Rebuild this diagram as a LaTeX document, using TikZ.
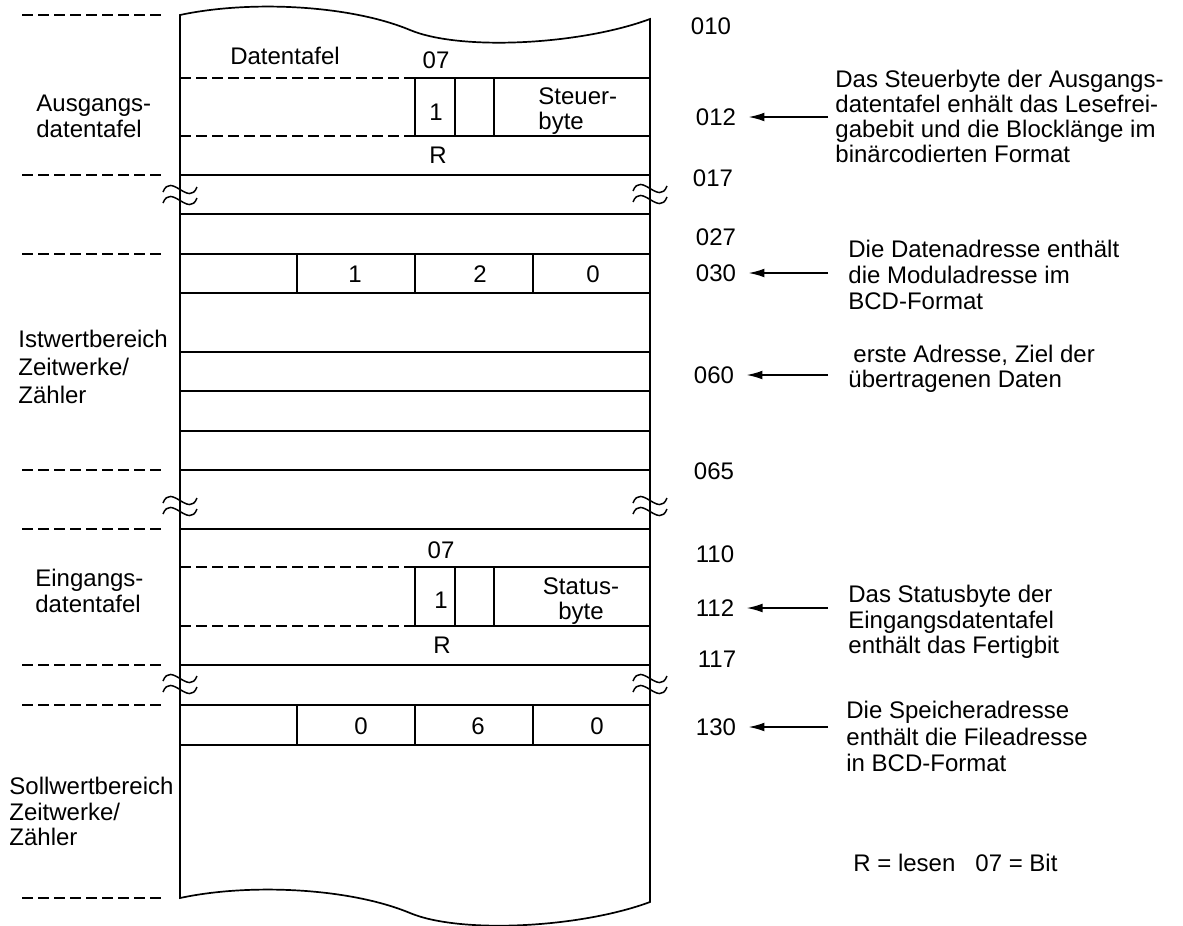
\documentclass[tikz,border=0pt]{standalone}
\usepackage{fontspec}
\setmainfont{Liberation Sans}
\usetikzlibrary{arrows.meta}
\begin{document}
\begin{tikzpicture}[x=0.5pt,y=-0.5pt,
  lw/.style={line width=0.85pt},
  dsh/.style={line width=0.85pt, dash pattern=on 5.5pt off 2.5pt},
  txt/.style={inner sep=0pt, font=\fontsize{12}{12.5}\selectfont},
  blk/.style={txt, align=left, anchor=north west},
  arr/.style={line width=0.85pt, -{Latex[length=8pt,width=4.4pt]}, shorten >=6pt},
  wv/.style={line width=0.75pt}
]
\useasboundingbox (0,0) rectangle (1183,926);

% outline of the memory strip
\draw[lw] (180,15) .. controls (250,0) and (350,5) .. (410,30)
  .. controls (460,51) and (580,45) .. (650,19) -- (650,902)
  .. controls (580,928) and (460,934) .. (410,913)
  .. controls (350,888) and (250,883) .. (180,898) -- cycle;

% full solid rows
\foreach \yy in {175,214,254,293,352,391,431,470,529,665,705,745}
  \draw[lw] (180,\yy) -- (650,\yy);
% half dashed rows
\foreach \yy in {78,136,567,626} {
  \draw[dsh] (180,\yy) -- (415,\yy);
  \draw[lw] (415,\yy) -- (650,\yy);
}
% cell dividers
\foreach \xx in {415,455,494} {
  \draw[lw] (\xx,78) -- (\xx,136);
  \draw[lw] (\xx,567) -- (\xx,626);
}
\foreach \xx in {297,415,533} {
  \draw[lw] (\xx,254) -- (\xx,293);
  \draw[lw] (\xx,705) -- (\xx,745);
}
% left dashed markers
\foreach \yy in {15,175,254,470,529,665,705,898}
  \draw[dsh] (22,\yy) -- (162,\yy);
% break symbols
\foreach \cx/\cy in {180/195,650/194,180/506,650/506,180/684,650/684}
  \foreach \dy in {-5.5,5.5}
    \draw[wv] (\cx-17,\cy+\dy+2.5) .. controls (\cx-9,\cy+\dy-18) and (\cx+9,\cy+\dy+18) .. (\cx+17,\cy+\dy-2.5);

% texts inside the strip
\node[txt] (datentafel) at (285,56) {Datentafel};
\node[txt] (bitA) at (436,60) {07};
\node[txt] (oneA) at (436,112) {1};
\node[txt] (rA) at (438,155) {R};
\node[blk] (steuer) at (538,87) {Steuer-\\byte};
\node[txt] (bitB) at (441,550) {07};
\node[txt] (oneB) at (441,600) {1};
\node[txt] (rB) at (442,645) {R};
\node[txt, align=center, anchor=north] (status) at (581,577) {Status-\\byte};
\node[txt] (d1) at (355,274) {1};
\node[txt] (d2) at (480,274) {2};
\node[txt] (d3) at (593,274) {0};
\node[txt] (e1) at (361,726) {0};
\node[txt] (e2) at (478,726) {6};
\node[txt] (e3) at (597,726) {0};

% left labels
\node[blk, font=\fontsize{12}{13}\selectfont] (ausg) at (36,95) {Ausgangs-\\datentafel};
\node[blk, font=\fontsize{12}{14}\selectfont] (istw) at (18,330) {Istwertbereich\\Zeitwerke/\\Zähler};
\node[blk, font=\fontsize{12}{13}\selectfont] (eing) at (35,569) {Eingangs-\\datentafel};
\node[blk, font=\fontsize{12}{12.75}\selectfont] (sollw) at (9,777) {Sollwertbereich\\Zeitwerke/\\Zähler};

% addresses
\node[txt] (l010) at (711,26) {010};
\node[txt] (l012) at (716,117) {012};
\node[txt] (l017) at (713,178) {017};
\node[txt] (l027) at (716,237) {027};
\node[txt] (l030) at (716,273) {030};
\node[txt] (l060) at (714,375) {060};
\node[txt] (l065) at (714,471) {065};
\node[txt] (l110) at (715,554) {110};
\node[txt] (l112) at (715,608) {112};
\node[txt] (l117) at (717,659) {117};
\node[txt] (l130) at (716,727) {130};

% explanations
\node[blk] (t1) at (835,70) {Das Steuerbyte der Ausgangs-\\datentafel enhält das Lesefrei-\\gabebit und die Blocklänge im\\binärcodierten Format};
\node[blk, font=\fontsize{12}{13}\selectfont] (t2) at (848,240) {Die Datenadresse enthält\\die Moduladresse im\\BCD-Format};
\node[blk] (t3) at (848,345) {\hspace*{2.5pt}erste Adresse, Ziel der\\übertragenen Daten};
\node[blk, font=\fontsize{12}{12.75}\selectfont] (t4) at (848,585) {Das Statusbyte der\\Eingangsdatentafel\\enthält das Fertigbit};
\node[blk, font=\fontsize{12}{13.25}\selectfont] (t5) at (846,701) {Die Speicheradresse\\enthält die Fileadresse\\in BCD-Format};
\node[txt, anchor=west] (legend) at (853,863) {R = lesen\hspace{10pt}07 = Bit};

% arrows
\coordinate (a012) at (828,117);
\coordinate (a030) at (828,273);
\coordinate (a060) at (828,375);
\coordinate (a112) at (828,608);
\coordinate (a130) at (828,727);
\draw[arr] (a012) -- (l012);
\draw[arr] (a030) -- (l030);
\draw[arr] (a060) -- (l060);
\draw[arr] (a112) -- (l112);
\draw[arr] (a130) -- (l130);
\end{tikzpicture}
\end{document}
